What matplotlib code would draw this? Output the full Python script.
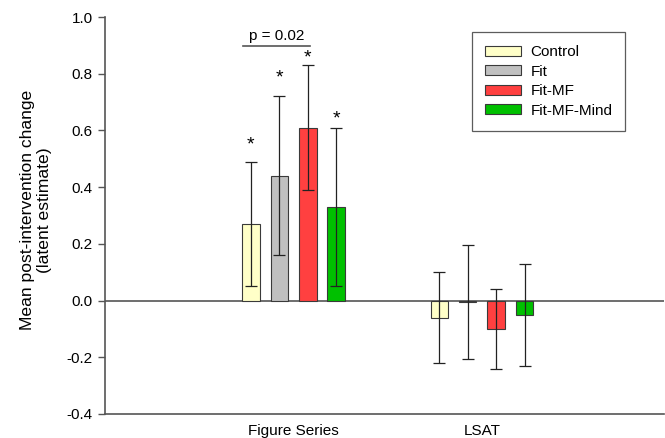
import numpy as np
import matplotlib
matplotlib.use("Agg")
import matplotlib.pyplot as plt

plt.rcParams['font.family'] = ['Liberation Sans', 'DejaVu Sans']

# data
categories = ["Figure Series", "LSAT"]
groups = ["Control", "Fit", "Fit-MF", "Fit-MF-Mind"]
colors = ["#FFFFC8", "#C0C0C0", "#FF4040", "#00C000"]
means = {
    "Control":     [0.27, -0.06],
    "Fit":         [0.44, -0.005],
    "Fit-MF":      [0.61, -0.10],
    "Fit-MF-Mind": [0.33, -0.05],
}
errors = {
    "Control":     [0.22, 0.16],
    "Fit":         [0.28, 0.20],
    "Fit-MF":      [0.22, 0.14],
    "Fit-MF-Mind": [0.28, 0.18],
}
# significance stars above Figure Series bars
star_y = [0.55, 0.785, 0.855, 0.64]

yticks = [-0.4, -0.2, 0.0, 0.2, 0.4, 0.6, 0.8, 1.0]

fig = plt.figure(figsize=(6.65, 4.38), dpi=100)
ax = fig.add_axes([0.158, 0.0548, 0.8405, 0.9062])

x = np.arange(len(categories))
width = 0.093
step = 0.151
edge = "#3a3a3a"

for i, g in enumerate(groups):
    off = (i - 1.5) * step
    ax.bar(x + off, means[g], width, color=colors[i], edgecolor=edge,
           linewidth=0.8, label=g, zorder=2)
    ax.errorbar(x + off, means[g], yerr=errors[g], fmt='none', ecolor="#222222",
                elinewidth=0.9, capsize=4.5, capthick=0.9, zorder=3)
    ax.text(x[0] + off, star_y[i], "*", ha='center', va='center', fontsize=14)

ax.axhline(0, color="#555555", linewidth=1.2, zorder=1)

# p-value bracket
ax.plot([-0.27, 0.085], [0.898, 0.898], color="#555555", linewidth=1.2)
ax.text(-0.09, 0.919, "p = 0.02", ha='center', va='baseline', fontsize=11)

ax.set_xlim(-1.0, 1.966)
ax.set_ylim(-0.4, 1.0)
ax.set_yticks(yticks)
ax.set_yticklabels([f"{v:.1f}" for v in yticks], fontsize=11)
ax.set_xticks(x)
ax.set_xticklabels(categories, fontsize=11)
ax.tick_params(axis='x', length=0, pad=7)
ax.tick_params(axis='y', direction='out', length=5, width=1, color="#555555", pad=4)

for s in ["top", "right"]:
    ax.spines[s].set_visible(False)
for s in ["left", "bottom"]:
    ax.spines[s].set_color("#555555")
    ax.spines[s].set_linewidth(1.2)

ax.set_ylabel("Mean post-intervention change\n(latent estimate)", fontsize=12.6,
              linespacing=1.2)
ax.yaxis.set_label_coords(-0.095, 0.514)

leg = ax.legend(loc='upper left', bbox_to_anchor=(0.657, 0.962), fontsize=11,
                fancybox=False, frameon=True, edgecolor="#333333",
                handlelength=2.35, handleheight=0.6, labelspacing=0.36,
                borderpad=0.85, handletextpad=0.6, borderaxespad=0)
leg.get_frame().set_linewidth(0.9)

fig.savefig("out.png", dpi=100)
